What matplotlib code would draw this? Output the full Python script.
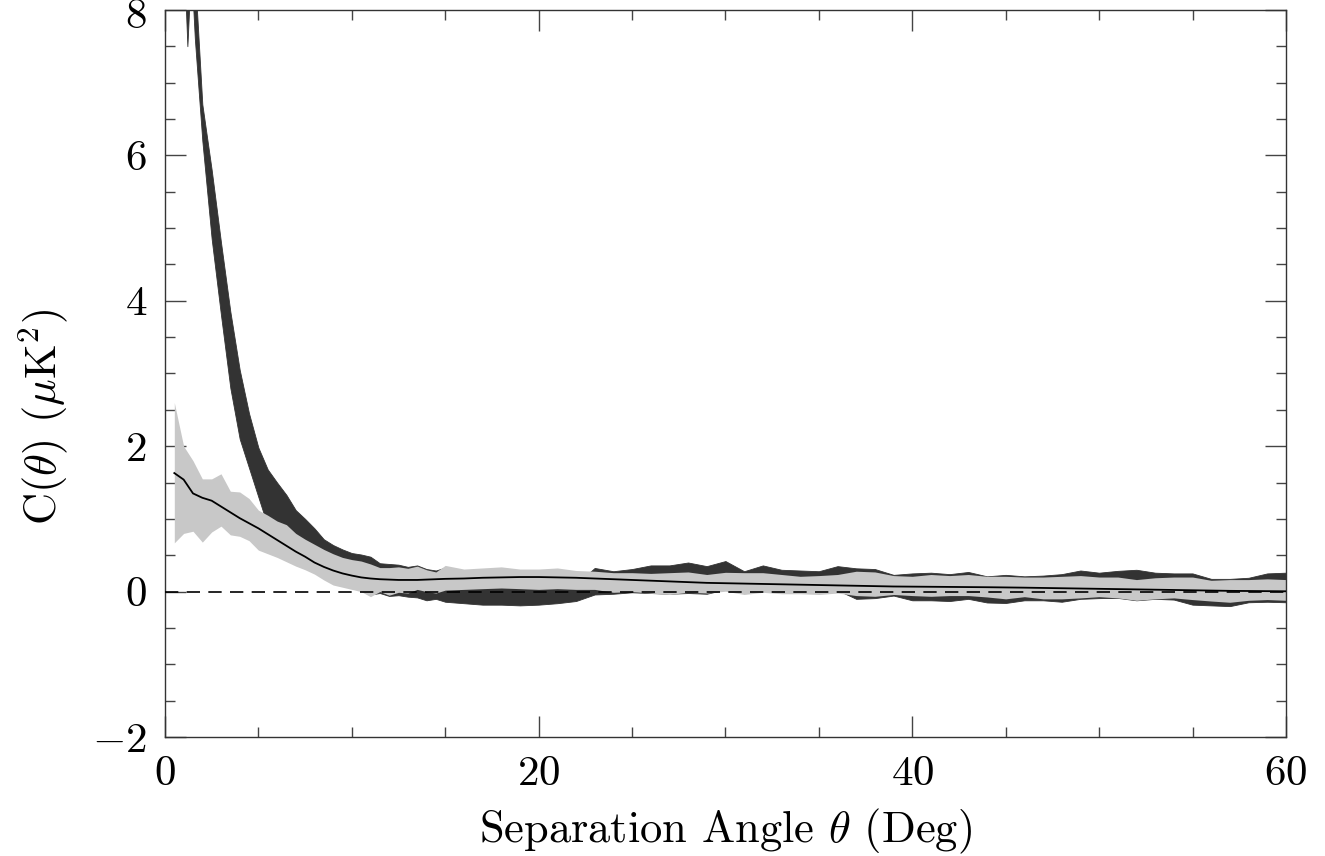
import numpy as np
import matplotlib
matplotlib.use("Agg")
import matplotlib.pyplot as plt
from matplotlib.ticker import MultipleLocator, FuncFormatter

plt.rcParams['font.family'] = 'serif'
plt.rcParams['font.serif'] = ['cmr10', 'DejaVu Serif']
plt.rcParams['mathtext.fontset'] = 'cm'
plt.rcParams['axes.formatter.use_mathtext'] = True

# model band (light grey) and its mean curve
theta = [0.5, 1.0, 1.5, 2.0, 2.5, 3.0, 3.5, 4.0, 4.5, 5.0, 5.5, 6.0, 6.5, 7.0, 7.5,
         8.0, 8.5, 9.0, 9.5, 10.0, 10.5, 11.0, 11.5, 12.0, 12.5, 13.0, 13.5, 14.0, 14.5, 15.0,
         16, 17, 18, 19, 20, 21, 22, 23, 24, 25, 26, 27, 28, 29, 30,
         31, 32, 33, 34, 35, 36, 37, 38, 39, 40, 41, 42, 43, 44, 45,
         46, 47, 48, 49, 50, 51, 52, 53, 54, 55, 56, 57, 58, 59, 60]
model_mean = [1.63, 1.54, 1.35, 1.29, 1.25, 1.17, 1.09, 1.01, 0.94, 0.87, 0.79, 0.71, 0.63, 0.55, 0.48,
              0.40, 0.34, 0.29, 0.25, 0.22, 0.195, 0.18, 0.17, 0.165, 0.16, 0.16, 0.16, 0.165, 0.17, 0.175,
              0.18, 0.19, 0.195, 0.2, 0.2, 0.195, 0.19, 0.18, 0.17, 0.16, 0.15, 0.14, 0.13, 0.12, 0.115,
              0.11, 0.105, 0.1, 0.095, 0.09, 0.085, 0.08, 0.075, 0.07, 0.068, 0.066, 0.064, 0.062, 0.06, 0.057,
              0.054, 0.05, 0.046, 0.042, 0.038, 0.034, 0.03, 0.026, 0.022, 0.018, 0.014, 0.01, 0.008, 0.006, 0.004]
model_hi = [2.6, 2.0, 1.8, 1.55, 1.55, 1.62, 1.38, 1.37, 1.28, 1.12, 1.05, 0.97, 0.92, 0.8, 0.72,
            0.65, 0.58, 0.52, 0.47, 0.44, 0.42, 0.38, 0.33, 0.33, 0.34, 0.32, 0.35, 0.3, 0.27, 0.36,
            0.31, 0.325, 0.34, 0.31, 0.31, 0.325, 0.29, 0.28, 0.26, 0.26, 0.25, 0.26, 0.27, 0.235, 0.265,
            0.26, 0.26, 0.235, 0.21, 0.22, 0.235, 0.28, 0.27, 0.22, 0.21, 0.235, 0.22, 0.235, 0.21, 0.21,
            0.20, 0.20, 0.21, 0.22, 0.20, 0.20, 0.165, 0.19, 0.20, 0.20, 0.155, 0.165, 0.165, 0.175, 0.165]
model_lo = [0.67, 0.8, 0.83, 0.68, 0.82, 0.9, 0.78, 0.76, 0.7, 0.57, 0.52, 0.47, 0.41, 0.35, 0.3,
            0.24, 0.16, 0.09, 0.06, 0.03, 0.0, -0.07, 0.0, -0.05, -0.01, -0.02, 0.03, 0.0, -0.02, 0.02,
            0.03, 0.04, 0.05, 0.04, 0.03, 0.04, 0.03, 0.03, -0.01, 0.0, -0.02, -0.04, -0.01, -0.02, 0.005,
            -0.04, -0.01, -0.03, -0.03, -0.04, -0.02, -0.055, -0.065, -0.04, -0.055, -0.065, -0.055, -0.055, -0.074, -0.10,
            -0.07, -0.10, -0.10, -0.087, -0.07, -0.087, -0.12, -0.10, -0.087, -0.11, -0.13, -0.147, -0.12, -0.11, -0.12]

# measured band (dark grey)
data_theta = [1.0, 1.2, 1.4, 1.6, 2.0, 2.5, 3.0, 3.5, 4.0, 4.5, 5.0, 5.5, 6.0, 6.5, 7.0, 7.5,
              8.0, 8.5, 9.0, 9.5, 10.0, 10.5, 11.0, 11.5, 12.0, 12.5, 13.0, 13.5, 14.0, 14.5, 15.0,
              16, 17, 18, 19, 20, 21, 22, 23, 24, 25, 26, 27, 28, 29, 30,
              31, 32, 33, 34, 35, 36, 37, 38, 39, 40, 41, 42, 43, 44, 45,
              46, 47, 48, 49, 50, 51, 52, 53, 54, 55, 56, 57, 58, 59, 60]
data_lo = [8.8, 7.5, 8.6, 7.6, 6.2, 4.85, 3.8, 2.8, 2.1, 1.7, 1.3, 0.9, 0.8, 0.7, 0.6, 0.5,
           0.4, 0.35, 0.3, 0.2, 0.12, 0.05, -0.04, -0.02, -0.06, -0.05, -0.07, -0.08, -0.12, -0.1, -0.14,
           -0.16, -0.18, -0.18, -0.19, -0.18, -0.16, -0.13, -0.04, -0.03, -0.01, -0.02, -0.03, -0.02, -0.03, 0.03,
           0.0, 0.02, 0.0, 0.0, -0.01, 0.02, -0.10, -0.09, -0.055, -0.12, -0.12, -0.13, -0.10, -0.15, -0.157,
           -0.12, -0.12, -0.14, -0.10, -0.09, -0.087, -0.12, -0.10, -0.11, -0.18, -0.19, -0.2, -0.147, -0.14, -0.147]
data_hi = [9.5, 9.3, 9.4, 8.5, 6.7, 5.8, 4.8, 3.85, 3.05, 2.45, 1.98, 1.68, 1.5, 1.33, 1.12, 1.0,
           0.87, 0.72, 0.64, 0.58, 0.53, 0.51, 0.48, 0.39, 0.38, 0.37, 0.34, 0.36, 0.31, 0.29, 0.33,
           0.05, 0.05, 0.05, 0.05, 0.05, 0.06, 0.1, 0.325, 0.28, 0.31, 0.36, 0.36, 0.40, 0.35, 0.42,
           0.28, 0.36, 0.30, 0.29, 0.28, 0.35, 0.32, 0.31, 0.23, 0.25, 0.26, 0.24, 0.27, 0.21, 0.23,
           0.21, 0.22, 0.24, 0.29, 0.26, 0.285, 0.30, 0.26, 0.25, 0.25, 0.175, 0.175, 0.19, 0.25, 0.26]

fig = plt.figure(figsize=(13.25, 8.56), dpi=100)
ax = fig.add_axes([0.1245, 0.139, 0.846, 0.8495])

ax.fill_between(data_theta, data_lo, data_hi, color='#333333', lw=0.6, zorder=1)
ax.fill_between(theta, model_lo, model_hi, color='#c8c8c8', lw=0, zorder=2)
ax.plot([0, 60], [0, 0], color='black', lw=1.2, ls=(0, (8, 5)), zorder=3)
ax.plot(theta, model_mean, color='black', lw=1.3, zorder=4)

ax.set_xlim(0, 60)
ax.set_ylim(-2, 8)
ax.xaxis.set_major_locator(MultipleLocator(20))
ax.xaxis.set_minor_locator(MultipleLocator(5))
ax.yaxis.set_major_locator(MultipleLocator(2))
ax.yaxis.set_minor_locator(MultipleLocator(0.5))
# the top label "8" is drawn separately so it stays inside the picture
ax.yaxis.set_major_formatter(FuncFormatter(
    lambda v, p: '' if v > 7.9 else ('$-$%d' % -v if v < 0 else '%d' % v)))
ax.tick_params(which='both', direction='in', top=True, right=True, width=1.0, color='#444444')
ax.tick_params(which='major', length=15, labelsize=31, pad=13)
ax.tick_params(which='minor', length=7.5)
for s in ax.spines.values():
    s.set_linewidth(1.0)
    s.set_color('#333333')
ax.annotate('8', xy=(0, 8), xycoords=('axes fraction', 'data'), xytext=(-13, -5),
            textcoords='offset points', ha='right', va='center', fontsize=31)

ax.set_xlabel(r'Separation Angle $\theta$ (Deg)', fontsize=32, labelpad=10)
ax.set_ylabel(r'C($\theta$) ($\mu$K$^2$)', fontsize=32)
ax.yaxis.set_label_coords(-0.085, 0.44)

fig.savefig('out.png', dpi=100)
